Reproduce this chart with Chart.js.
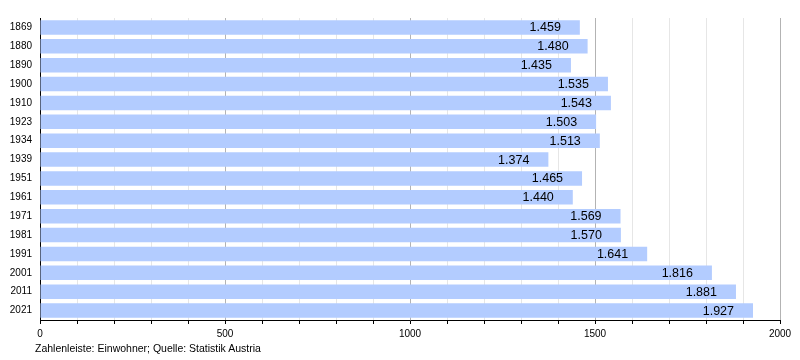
<!DOCTYPE html>
<html>
<head>
<meta charset="utf-8">
<script src="https://cdn.jsdelivr.net/npm/chart.js@4"></script>
<style>
  body { margin: 0; background: #fff; }
  #wrap { position: relative; width: 800px; height: 360px; }
  #note {
    position: absolute; left: 35px; top: 342px;
    font: 10.5px "Liberation Sans", Arial, sans-serif; color: #000;
  }
</style>
</head>
<body>
<div id="wrap">
  <canvas id="popChart" width="800" height="360"></canvas>
  <div id="note">Zahlenleiste: Einwohner; Quelle: Statistik Austria</div>
</div>
<script>
// data
const years = ["1869", "1880", "1890", "1900", "1910", "1923", "1934", "1939",
  "1951", "1961", "1971", "1981", "1991", "2001", "2011", "2021"];
const population = [1459, 1480, 1435, 1535, 1543, 1503, 1513, 1374,
  1465, 1440, 1569, 1570, 1641, 1816, 1881, 1927];
const xTicks = [0, 500, 1000, 1500, 2000];

const fontFamily = '"Liberation Sans", Arial, sans-serif';

// labels inside the bars, german thousands dot
const barLabels = {
  id: "barLabels",
  afterDatasetsDraw(chart) {
    const ctx = chart.ctx;
    const meta = chart.getDatasetMeta(0);
    ctx.save();
    ctx.font = "12.5px " + fontFamily;
    ctx.fillStyle = "#000";
    ctx.textAlign = "right";
    ctx.textBaseline = "middle";
    meta.data.forEach(function (bar, i) {
      const v = population[i];
      const txt = Math.floor(v / 1000) + "." + String(v % 1000).padStart(3, "0");
      ctx.fillText(txt, bar.x - 19, bar.y + 0.5);
    });
    ctx.restore();
  },
};

const ctx = document.getElementById("popChart");
const myChart = new Chart(ctx, {
  type: "bar",
  data: {
    labels: years,
    datasets: [
      {
        data: population,
        backgroundColor: "#b3ccff",
        borderWidth: 0,
        categoryPercentage: 1,
        barPercentage: 0.77,
      },
    ],
  },
  plugins: [barLabels],
  options: {
    indexAxis: "y",
    responsive: false,
    animation: false,
    layout: {
      padding: { top: 18, right: 20, bottom: 18, left: 0 },
    },
    plugins: {
      legend: { display: false },
      tooltip: { enabled: false },
    },
    scales: {
      x: {
        min: 0,
        max: 2000,
        afterFit: function (scale) { scale.height = 22; },
        afterBuildTicks: function (scale) {
          const t = [];
          for (let v = 0; v <= 2000; v += 100) t.push({ value: v });
          scale.ticks = t;
        },
        ticks: {
          autoSkip: false,
          maxRotation: 0,
          padding: 4,
          color: "#000",
          font: { family: fontFamily, size: 10 },
          callback: function (value) {
            return xTicks.includes(value) ? String(value) : "";
          },
        },
        grid: {
          color: function (c) {
            return c.tick && c.tick.value % 500 === 0 ? "#b3b3b3" : "#e6e6e6";
          },
          tickColor: "#000",
          tickLength: 4,
        },
        border: { color: "#000", width: 1 },
      },
      y: {
        afterFit: function (scale) { scale.width = 40; },
        ticks: {
          padding: 8,
          color: "#000",
          font: { family: fontFamily, size: 10 },
        },
        grid: { display: false, drawTicks: false },
        border: { color: "#000", width: 1 },
      },
    },
  },
});
</script>
</body>
</html>
